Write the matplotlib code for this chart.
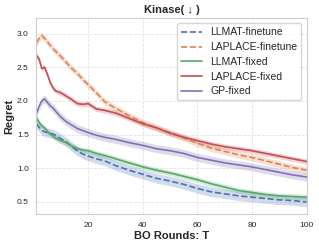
import matplotlib
matplotlib.use("Agg")
import matplotlib.pyplot as plt
import seaborn as sns

T = [1, 2, 3, 4, 5, 6, 7, 8, 10, 12, 14, 16, 18, 20, 23, 26, 30, 35, 40, 45,
     50, 55, 60, 65, 70, 75, 80, 85, 90, 95, 100]

llmat_finetune = [1.66, 1.61, 1.56, 1.54, 1.53, 1.52, 1.51, 1.49, 1.44, 1.39, 1.32,
                  1.26, 1.21, 1.18, 1.14, 1.11, 1.04, 0.97, 0.91, 0.85, 0.81, 0.76,
                  0.70, 0.65, 0.62, 0.59, 0.57, 0.55, 0.53, 0.52, 0.50]
laplace_finetune = [2.86, 2.93, 2.97, 2.93, 2.88, 2.83, 2.78, 2.74, 2.66, 2.57, 2.48,
                    2.41, 2.32, 2.24, 2.12, 1.99, 1.89, 1.78, 1.68, 1.60, 1.53, 1.45,
                    1.37, 1.30, 1.25, 1.20, 1.16, 1.11, 1.06, 1.01, 0.97]
llmat_fixed = [1.75, 1.68, 1.63, 1.60, 1.55, 1.51, 1.48, 1.45, 1.41, 1.38, 1.33,
               1.29, 1.27, 1.26, 1.22, 1.19, 1.14, 1.08, 1.02, 0.97, 0.93, 0.88,
               0.83, 0.77, 0.72, 0.67, 0.64, 0.61, 0.59, 0.58, 0.57]
laplace_fixed = [2.68, 2.62, 2.48, 2.50, 2.40, 2.28, 2.20, 2.15, 2.12, 2.07, 2.02,
                 1.96, 1.95, 1.96, 1.88, 1.86, 1.82, 1.74, 1.66, 1.60, 1.52, 1.46,
                 1.41, 1.36, 1.32, 1.29, 1.26, 1.22, 1.18, 1.14, 1.10]
gp_fixed = [1.81, 1.92, 2.00, 2.03, 1.98, 1.93, 1.90, 1.85, 1.76, 1.69, 1.64,
            1.59, 1.56, 1.53, 1.49, 1.46, 1.43, 1.38, 1.34, 1.29, 1.26, 1.22,
            1.16, 1.12, 1.08, 1.05, 1.02, 0.98, 0.94, 0.90, 0.87]

# half width of the shaded band for each method
band = {"LLMAT-finetune": 0.07, "LAPLACE-finetune": 0.05, "LLMAT-fixed": 0.04,
        "LAPLACE-fixed": 0.04, "GP-fixed": 0.06}

sns.set_style("whitegrid", {"grid.linestyle": "--", "grid.color": "#e2e2e2"})
plt.rcParams["font.family"] = ["Liberation Sans", "DejaVu Sans"]

pal = sns.color_palette("deep")
series = [
    ("LLMAT-finetune", llmat_finetune, pal[0], "--"),
    ("LAPLACE-finetune", laplace_finetune, pal[1], "--"),
    ("LLMAT-fixed", llmat_fixed, pal[2], "-"),
    ("LAPLACE-fixed", laplace_fixed, pal[3], "-"),
    ("GP-fixed", gp_fixed, pal[4], "-"),
]

fig = plt.figure(figsize=(3.19, 2.48), dpi=100)
ax = fig.add_axes([0.114, 0.137, 0.847, 0.79])

for name, vals, col, ls in series:
    lo = [v - band[name] for v in vals]
    hi = [v + band[name] for v in vals]
    ax.fill_between(T, lo, hi, color=col, alpha=0.25, linewidth=0)
    ax.plot(T, vals, color=col, linestyle=ls, linewidth=1.2, label=name)

ax.set_xlim(1, 100)
ax.set_ylim(0.32, 3.23)
ax.set_xticks([20, 40, 60, 80, 100])
ax.set_yticks([0.5, 1.0, 1.5, 2.0, 2.5, 3.0])
ax.tick_params(labelsize=6, pad=2)
ax.grid(linewidth=0.6)

ax.set_title("Kinase( ↓ )", fontsize=8, fontweight="bold", pad=4)
ax.set_xlabel("BO Rounds: T", fontsize=8, fontweight="bold", labelpad=2)
ax.set_ylabel("Regret", fontsize=8, fontweight="bold", labelpad=2)

ax.legend(loc="upper right", fontsize=7.5, handlelength=2, labelspacing=0.45,
          borderpad=0.4, frameon=True)

plt.savefig("out.png", dpi=100)
